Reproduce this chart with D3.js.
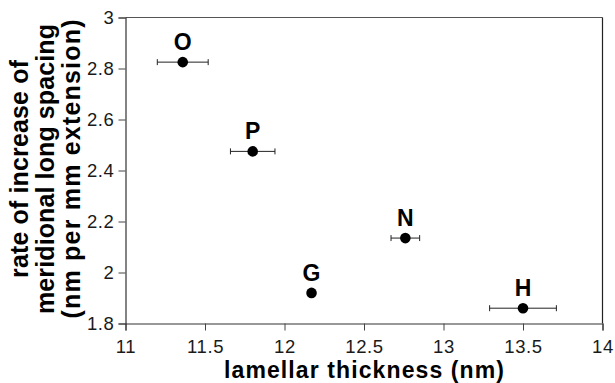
<!DOCTYPE html>
<html>
<head>
<meta charset="utf-8">
<script src="https://cdn.jsdelivr.net/npm/d3@7"></script>
<style>
  html, body { margin: 0; padding: 0; background: #fff; }
  svg { display: block; font-family: "Liberation Sans", Arial, Helvetica, sans-serif; }
</style>
</head>
<body>
<svg id="chart" width="615" height="383"></svg>
<script>
// Samples: lamellar thickness (nm) vs rate of increase of meridional long spacing
const sampleNames = ["O", "P", "G", "N", "H"];
const thickness   = [11.36, 11.80, 12.17, 12.76, 13.50];
const thicknessErr = [0.16, 0.14, 0, 0.09, 0.21];
const rate        = [2.825, 2.475, 1.92, 2.135, 1.86];

const xTicks = [11, 11.5, 12, 12.5, 13, 13.5, 14];
const yTicks = [1.8, 2, 2.2, 2.4, 2.6, 2.8, 3];

const xTitle = "lamellar thickness (nm)";
const yTitleLines = ["rate of increase of", "meridional long spacing", "(nm per mm extension)"];

const W = 615, H = 383;
const margin = { top: 17.5, right: 12.5, bottom: 59.5, left: 125.5 };
const innerW = W - margin.left - margin.right;
const innerH = H - margin.top - margin.bottom;

const svg = d3.select("#chart");
const g = svg.append("g").attr("transform", `translate(${margin.left},${margin.top})`);

const x = d3.scaleLinear().domain([11, 14]).range([0, innerW]);
const y = d3.scaleLinear().domain([1.8, 3]).range([innerH, 0]);

const fmt = d => String(+d.toFixed(1));
const ink = "#1a1a1a";

// frame (top and right edges)
g.append("line").attr("x1", 0).attr("x2", innerW).attr("y1", 0).attr("y2", 0)
  .attr("stroke", "#555").attr("stroke-width", 1.2);
g.append("line").attr("x1", innerW).attr("x2", innerW).attr("y1", 0).attr("y2", innerH)
  .attr("stroke", "#222").attr("stroke-width", 1.2);

// axes
const xAxis = g.append("g").attr("transform", `translate(0,${innerH})`)
  .call(d3.axisBottom(x).tickValues(xTicks).tickFormat(fmt).tickSize(7).tickPadding(9));
const yAxis = g.append("g")
  .call(d3.axisLeft(y).tickValues(yTicks).tickFormat(fmt).tickSize(7).tickPadding(4));

[xAxis, yAxis].forEach(ax => {
  ax.select(".domain").attr("stroke", "#333").attr("stroke-width", 1.2);
  ax.selectAll(".tick line").attr("stroke", "#444").attr("stroke-width", 1);
  ax.selectAll(".tick text")
    .attr("fill", ink)
    .style("font-family", "'Liberation Sans', Arial, sans-serif")
    .style("font-size", "18.5px")
    .style("letter-spacing", "0.6px");
});

// data rows
const rows = sampleNames.map((name, i) => ({
  name, x: thickness[i], err: thicknessErr[i], y: rate[i]
}));

// horizontal error bars with end caps
const eb = g.append("g").attr("stroke", "#222").attr("stroke-width", 1);
rows.filter(d => d.err > 0).forEach(d => {
  const cy = y(d.y);
  eb.append("line").attr("x1", x(d.x - d.err)).attr("x2", x(d.x + d.err))
    .attr("y1", cy).attr("y2", cy);
  eb.append("line").attr("x1", x(d.x - d.err)).attr("x2", x(d.x - d.err))
    .attr("y1", cy - 3).attr("y2", cy + 3);
  eb.append("line").attr("x1", x(d.x + d.err)).attr("x2", x(d.x + d.err))
    .attr("y1", cy - 3).attr("y2", cy + 3);
});

// points
g.append("g").selectAll("circle").data(rows).join("circle")
  .attr("cx", d => x(d.x)).attr("cy", d => y(d.y)).attr("r", 5.3)
  .attr("fill", "#000");

// point labels
g.append("g").selectAll("text").data(rows).join("text")
  .attr("x", d => x(d.x)).attr("y", d => y(d.y) - 12)
  .attr("text-anchor", "middle")
  .attr("fill", "#000")
  .style("font-size", "23px").style("font-weight", "bold")
  .text(d => d.name);

// x axis title
svg.append("text")
  .attr("x", margin.left + innerW / 2).attr("y", 377.5)
  .attr("text-anchor", "middle")
  .attr("fill", "#000")
  .style("font-size", "23px").style("font-weight", "bold")
  .attr("textLength", 280).attr("lengthAdjust", "spacing")
  .text(xTitle);

// y axis title, three rotated lines
const yTitleBaselines = [28, 54, 80];
const yTitleLengths = [218, 290, 299];
const yTitleCenter = 169;
yTitleLines.forEach((line, i) => {
  svg.append("text")
    .attr("transform", `translate(${yTitleBaselines[i]},${yTitleCenter}) rotate(-90)`)
    .attr("text-anchor", "middle")
    .attr("fill", "#000")
    .style("font-size", "25px").style("font-weight", "bold")
    .attr("textLength", yTitleLengths[i]).attr("lengthAdjust", "spacing")
    .text(line);
});
</script>
</body>
</html>
